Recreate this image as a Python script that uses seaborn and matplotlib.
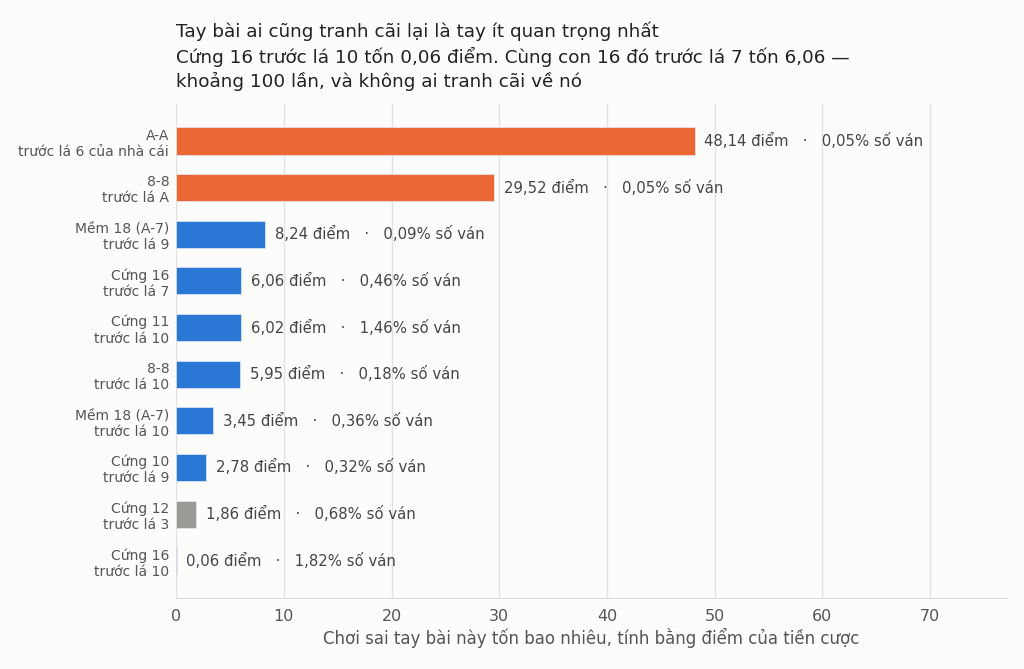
import pandas as pd
import matplotlib
matplotlib.use('Agg')
import matplotlib.pyplot as plt
import seaborn as sns

# Chart data
hands = [
    'A-A\ntrước lá 6 của nhà cái',
    '8-8\ntrước lá A',
    'Mềm 18 (A-7)\ntrước lá 9',
    'Cứng 16\ntrước lá 7',
    'Cứng 11\ntrước lá 10',
    '8-8\ntrước lá 10',
    'Mềm 18 (A-7)\ntrước lá 10',
    'Cứng 10\ntrước lá 9',
    'Cứng 12\ntrước lá 3',
    'Cứng 16\ntrước lá 10',
]
cost_points = [48.14, 29.52, 8.24, 6.06, 6.02, 5.95, 3.45, 2.78, 1.86, 0.06]
share_pct = [0.05, 0.05, 0.09, 0.46, 1.46, 0.18, 0.36, 0.32, 0.68, 1.82]
groups = ['hot', 'hot', 'mid', 'mid', 'mid', 'mid', 'mid', 'mid', 'low', 'low']

palette = {'hot': '#EB6835', 'mid': '#2A77D5', 'low': '#9B9A96'}
bg = '#FCFCFB'

df = pd.DataFrame({'hand': hands, 'cost': cost_points, 'share': share_pct, 'group': groups})

sns.set_style('white')
plt.rcParams['font.family'] = ['DejaVu Sans']

fig, ax = plt.subplots(figsize=(10.24, 6.69), dpi=100)
fig.patch.set_facecolor(bg)
ax.set_facecolor(bg)
fig.subplots_adjust(left=0.172, right=0.982, top=0.845, bottom=0.106)

sns.barplot(data=df, x='cost', y='hand', hue='group', palette=palette, dodge=False,
            legend=False, width=0.58, saturation=1, edgecolor='#E4EAF3', linewidth=0.5,
            ax=ax, zorder=3)

# Value labels next to each bar
for i, row in df.iterrows():
    label = f"{row['cost']:.2f}".replace('.', ',') + ' điểm   ·   ' + \
            f"{row['share']:.2f}".replace('.', ',') + '% số ván'
    ax.annotate(label, (row['cost'], i), xytext=(7, 0), textcoords='offset points',
                va='center', ha='left', fontsize=10.7, color='#444444')

ax.set_xlim(0, 77)
ax.set_ylim(9.8, -0.8)
ax.set_xticks(range(0, 80, 10))
ax.grid(axis='x', color='#E2E2E2', linewidth=1, zorder=0)
ax.grid(axis='y', visible=False)
ax.set_axisbelow(True)

for side in ['top', 'right', 'left']:
    ax.spines[side].set_visible(False)
ax.spines['bottom'].set_color('#DDDDDD')

ax.tick_params(axis='x', colors='#DDDDDD', labelcolor='#555555', labelsize=11.5,
               length=4, width=1)
ax.tick_params(axis='y', length=0, labelcolor='#555555', labelsize=10, pad=5)

ax.set_ylabel('')
ax.set_xlabel('Chơi sai tay bài này tốn bao nhiêu, tính bằng điểm của tiền cược',
              fontsize=12, color='#555555', labelpad=3)

ax.set_title('Tay bài ai cũng tranh cãi lại là tay ít quan trọng nhất\n'
             'Cứng 16 trước lá 10 tốn 0,06 điểm. Cùng con 16 đó trước lá 7 tốn 6,06 —\n'
             'khoảng 100 lần, và không ai tranh cãi về nó',
             loc='left', fontsize=13.2, color='#222222', pad=12, linespacing=1.35)

plt.savefig('out.png', dpi=100, facecolor=bg)
